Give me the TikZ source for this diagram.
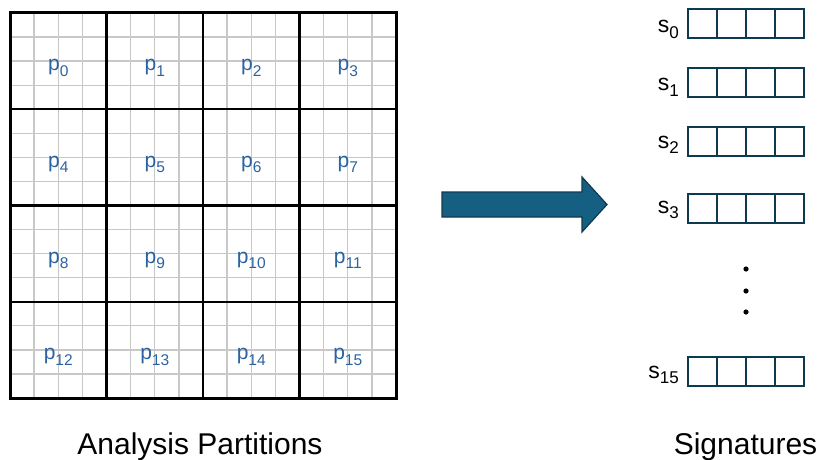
\documentclass[tikz,border=0pt]{standalone}
\usepackage{fontspec}
\setmainfont{Liberation Sans}
\usepackage{xcolor}
\usepackage{tikz}

\definecolor{accent}{HTML}{156082}
\definecolor{accentdark}{HTML}{0E3A50}
\definecolor{plabel}{HTML}{2B63A0}
\definecolor{finegrid}{HTML}{C8C8C8}

\newcommand{\sbs}[1]{\raisebox{-0.26em}{\scalebox{0.74}{#1}}}

\begin{document}
\begin{tikzpicture}[x=1pt, y=-1pt,
    plab/.style={text=plabel, inner sep=0pt, font=\fontsize{21}{25}\selectfont},
    slab/.style={anchor=base east, inner sep=0pt, font=\fontsize{23}{27}\selectfont},
    caption/.style={anchor=base, inner sep=0pt, font=\fontsize{30}{36}\selectfont},
    sigbox/.style={draw=accentdark, line width=1.5pt}]
  \useasboundingbox (0,0) rectangle (820,460);
  % partition grid
  \foreach \i in {1,...,15} {
    \draw[finegrid, line width=1.3pt] ({10+\i*24.125},13) -- ({10+\i*24.125},398);
    \draw[finegrid, line width=1.3pt] (10,{13+\i*24.0625}) -- (396,{13+\i*24.0625});
  }
  \foreach \i in {1,2,3} {
    \draw[line width=2.2pt] ({10+\i*96.5},13) -- ({10+\i*96.5},398);
    \draw[line width=2.2pt] (10,{13+\i*96.25}) -- (396,{13+\i*96.25});
  }
  \draw[line width=3pt] (10,13) rectangle (396,398);
  \node[plab] (p0) at (58.25,68) {p\sbs{0}};
  \node[plab] (p1) at (154.75,68) {p\sbs{1}};
  \node[plab] (p2) at (251.25,68) {p\sbs{2}};
  \node[plab] (p3) at (347.75,68) {p\sbs{3}};
  \node[plab] (p4) at (58.25,164.3) {p\sbs{4}};
  \node[plab] (p5) at (154.75,164.3) {p\sbs{5}};
  \node[plab] (p6) at (251.25,164.3) {p\sbs{6}};
  \node[plab] (p7) at (347.75,164.3) {p\sbs{7}};
  \node[plab] (p8) at (58.25,260.5) {p\sbs{8}};
  \node[plab] (p9) at (154.75,260.5) {p\sbs{9}};
  \node[plab] (p10) at (251.25,260.5) {p\sbs{10}};
  \node[plab] (p11) at (347.75,260.5) {p\sbs{11}};
  \node[plab] (p12) at (58.25,356.8) {p\sbs{12}};
  \node[plab] (p13) at (154.75,356.8) {p\sbs{13}};
  \node[plab] (p14) at (251.25,356.8) {p\sbs{14}};
  \node[plab] (p15) at (347.75,356.8) {p\sbs{15}};
  % block arrow
  \draw[fill=accent, draw=accentdark, line width=1.2pt, line join=miter]
    (442,192) -- (582,192) -- (582,177) -- (607,204.5) -- (582,232) -- (582,217) -- (442,217) -- cycle;
  % signatures
  \foreach \top/\base/\n in {9/33/0, 68/91/1, 127/148/2, 194/213/3, 357/378/15} {
    \node[slab] (s\n) at (679,\base) {s\sbs{\n}};
    \draw[sigbox] (688,\top) rectangle (804,{\top+29});
    \foreach \x in {717,746,775}
      \draw[sigbox] (\x,\top) -- (\x,{\top+29});
  }
  \fill (746,269) circle (2.6pt);
  \fill (746,291) circle (2.6pt);
  \fill (746,312) circle (2.6pt);
  % captions
  \node[caption] (capgrid) at (200,454) {Analysis Partitions};
  \node[caption] (capsig) at (745.5,454) {Signatures};
\end{tikzpicture}
\end{document}
